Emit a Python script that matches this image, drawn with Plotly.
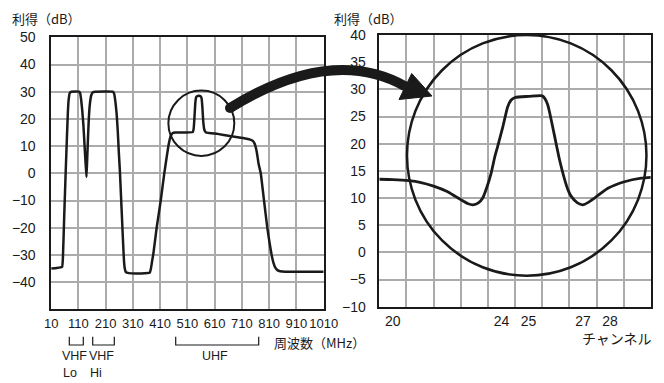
import plotly.graph_objects as go

# ---------------- data ----------------
# Left chart: overall gain vs frequency (MHz)
freq_mhz = [10, 30, 50, 53, 58, 63, 68, 71, 74, 78, 84, 112, 116, 120, 124, 128, 132, 136,
            139.5, 142, 145, 148, 152, 157, 163, 172, 236, 241, 246, 250, 254, 258, 262,
            266, 270, 274, 277, 280, 284, 295, 340, 372, 376, 380, 385, 397, 412, 425, 440,
            448, 456, 466, 530, 533, 536, 539, 542, 546, 552, 558, 562, 565, 568, 572, 578,
            620, 666, 700, 727, 740, 750, 756, 760, 765, 771, 779, 791, 803, 812, 819, 826,
            833, 840, 850, 870, 1010]
gain_db = [-35, -34.8, -34.4, -31, -15, 0, 14, 22, 27, 29.5, 30, 30, 29.5, 27, 23, 18, 11, 4,
           -1.4, 5, 13, 20, 25.5, 28.7, 29.8, 30, 30, 29.3, 26, 22, 16, 8, 1,
           -8, -17, -26, -32, -35, -36.3, -36.7, -36.8, -36.5, -35, -32.5, -29.5, -20, -10, 0, 10,
           13.5, 14.8, 15, 15.2, 16.5, 21, 26, 28, 28.4, 28.5, 28.3, 27.5, 24, 19, 16, 15,
           14.5, 13.7, 13.2, 12.7, 12.4, 11.9, 11.0, 9.8, 7.5, 3.5, 0, -10, -20, -26, -30, -33,
           -34.8, -35.6, -36, -36.2, -36.2]
freq_ticks = [10, 110, 210, 310, 410, 510, 610, 710, 810, 910, 1010]
gain_ticks_left = [-40, -30, -20, -10, 0, 10, 20, 30, 40, 50]

# Right chart: zoom around channel 25
channel = [19.5, 20.0, 20.6, 21.0, 21.5, 22.0, 22.3, 22.5, 22.75, 22.95, 23.15, 23.31, 23.45,
           23.62, 23.75, 23.86, 24.05, 24.23, 24.35, 24.5, 25.0, 25.5, 25.6, 25.7, 25.78,
           25.96, 26.14, 26.33, 26.45, 26.57, 26.8, 27.0, 27.2, 27.43, 27.92, 28.53, 29.15, 29.5]
channel_gain_db = [13.45, 13.4, 13.2, 12.9, 12.2, 11.2, 10.3, 9.7, 9.0, 8.75, 9.1, 10.0, 11.8,
                   14.6, 17.5, 19.5, 23.1, 26.8, 28.0, 28.5, 28.7, 28.8, 28.3, 27.2, 25.6,
                   21.3, 17.0, 13.35, 11.5, 10.3, 9.1, 8.75, 9.2, 10.0, 11.8, 13.0, 13.65, 13.8]
channel_ticks = [20, 24, 25, 27, 28]
channel_grid = [19.5, 20.5, 21.5, 22.5, 23.5, 24.5, 25.5, 26.5, 27.5, 28.5, 29.5]
gain_ticks_right = [-10, -5, 0, 5, 10, 15, 20, 25, 30, 35, 40]

# ---------------- layout helpers ----------------
# the page body has an 8px margin, so the figure is drawn 8px in from the window corner
OFF = 8
W, H = 664 - OFF, 383 - OFF
def pxx(x):
    return (x - OFF) / W
def pxy(y):
    return 1 - (y - OFF) / H

TICKFONT = dict(family="Liberation Sans, Arial, sans-serif", size=13, color="#1a1a1a")
TICKFONT_L = dict(TICKFONT, size=14)
JPFONT = dict(family="Noto Sans CJK JP, sans-serif", size=13, color="#1a1a1a")
GRID = "#ababab"
INK = "#1a1a1a"

fig = go.Figure()
fig.add_trace(go.Scatter(x=freq_mhz, y=gain_db, mode="lines", xaxis="x", yaxis="y",
                         line=dict(color=INK, width=2.5, shape="spline", smoothing=0.3),
                         hoverinfo="skip", showlegend=False))
fig.add_trace(go.Scatter(x=channel, y=channel_gain_db, mode="lines", xaxis="x2", yaxis="y2",
                         line=dict(color=INK, width=2.8, shape="spline", smoothing=0.6),
                         hoverinfo="skip", showlegend=False))

axis_common = dict(showline=True, mirror=True, linecolor=INK, linewidth=1.5, zeroline=False,
                   ticks="outside", tickcolor="rgba(0,0,0,0)", tickfont=TICKFONT,
                   gridcolor=GRID, gridwidth=1.5, fixedrange=True, automargin=False,
                   tickangle=0)

fig.update_layout(
    width=W, height=H,
    margin=dict(l=0, r=0, t=0, b=0, autoexpand=False),
    paper_bgcolor="white", plot_bgcolor="white",
    xaxis=dict(axis_common, domain=[pxx(51.2), pxx(323.7)], anchor="y",
               range=[10, 1010], tickvals=freq_ticks, ticklen=1, showgrid=True),
    yaxis=dict(axis_common, domain=[pxy(309.3), pxy(37.3)], anchor="x",
               range=[-50, 50], tickvals=gain_ticks_left, ticklen=11, showgrid=True,
               tickfont=TICKFONT_L),
    xaxis2=dict(axis_common, domain=[pxx(379.3), pxx(650.8)], anchor="y2",
                range=[19.5, 29.5], tickvals=channel_ticks, ticklen=1, showgrid=False,
                tickfont=TICKFONT_L,
                minor=dict(tickvals=channel_grid, showgrid=True, gridcolor=GRID, gridwidth=1.5,
                           ticks="")),
    yaxis2=dict(axis_common, domain=[pxy(306.7), pxy(35)], anchor="x2",
                range=[-10, 40], tickvals=gain_ticks_right, ticklen=9, showgrid=True,
                tickfont=TICKFONT_L),
)

shapes = []
# magnifier circles
shapes.append(dict(type="circle", xref="x", yref="y", x0=440, x1=682, y0=6.4, y1=30.4,
                   line=dict(color=INK, width=2)))
shapes.append(dict(type="circle", xref="x2", yref="y2", x0=20.52, x1=29.34, y0=-4.3, y1=40,
                   line=dict(color=INK, width=2.5)))

# curved arrow
def P(x, y):
    return f"{pxx(x):.5f},{pxy(y):.5f}"
shapes.append(dict(type="path", xref="paper", yref="paper",
                   path=f"M {P(230,108)} Q {P(332,45)} {P(405.5,86.5)}",
                   line=dict(color=INK, width=10)))
shapes.append(dict(type="circle", xref="paper", yref="paper",
                   x0=pxx(225), x1=pxx(235), y0=pxy(113), y1=pxy(103),
                   fillcolor=INK, line=dict(width=0)))
shapes.append(dict(type="path", xref="paper", yref="paper",
                   path=f"M {P(411.7,73.5)} L {P(399,99.5)} L {P(432,96)} Z",
                   fillcolor=INK, line=dict(color=INK, width=1)))

# band brackets
def bracket(x0, x1, y0=336.7, y1=345):
    return dict(type="path", xref="paper", yref="paper",
                path=f"M {P(x0,y0)} L {P(x0,y1)} L {P(x1,y1)} L {P(x1,y0)}",
                line=dict(color=INK, width=1.2))
shapes += [bracket(69.3, 83.3), bracket(92.7, 114.3), bracket(175.7, 258.7)]
fig.update_layout(shapes=shapes)

ann = []
def text(t, x, y, xanchor="left", font=JPFONT, yanchor="middle"):
    ann.append(dict(text=t, x=pxx(x), y=pxy(y), xref="paper", yref="paper",
                    xanchor=xanchor, yanchor=yanchor, showarrow=False, font=font,
                    borderpad=0))
text("利得（dB）", 11, 8, yanchor="top")
text("利得（dB）", 333, 8, yanchor="top")
text("周波数（MHz）", 273, 342.7)
text("チャンネル", 653, 337.5, xanchor="right", font=dict(JPFONT, size=14))
BAND = dict(TICKFONT, size=12.5)
text("VHF", 61, 355.5, font=BAND)
text("Lo", 62, 373, font=BAND)
text("VHF", 88, 355.5, font=BAND)
text("Hi", 88.5, 373, font=BAND)
text("UHF", 215, 355.5, xanchor="center", font=BAND)
fig.update_layout(annotations=ann)

fig.write_html("out.html")
